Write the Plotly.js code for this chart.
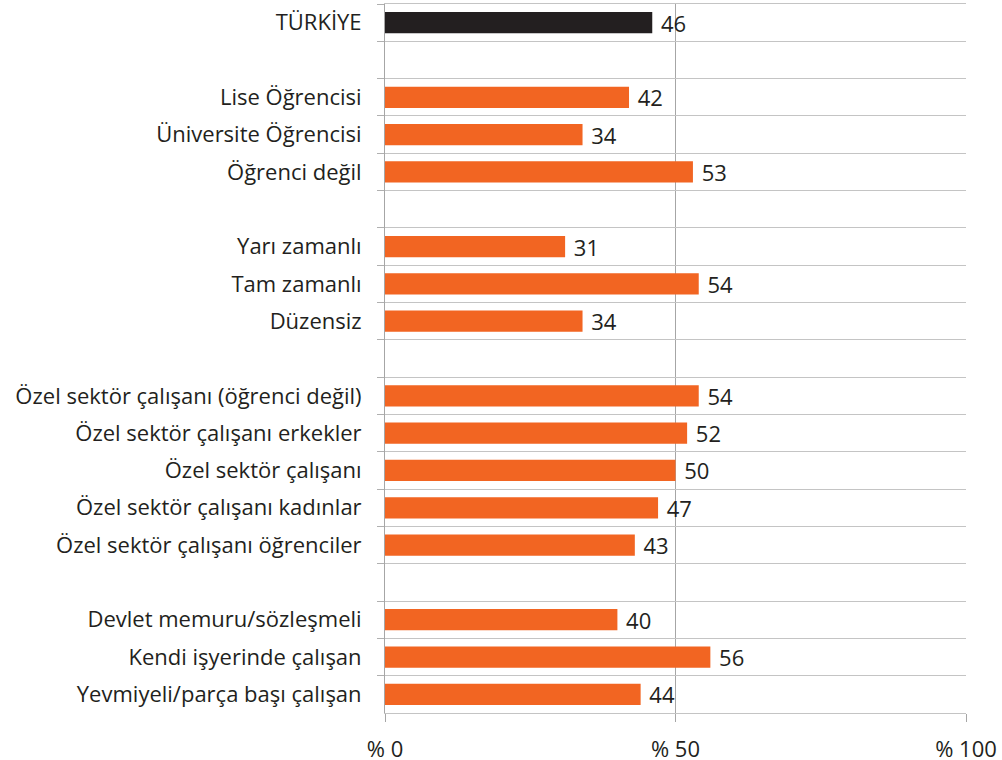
<!DOCTYPE html>
<html>
<head>
<meta charset="utf-8">
<script src="https://cdn.plot.ly/plotly-3.0.1.min.js"></script>
<style>body{margin:0;padding:0;background:#fff;}#chart{width:1002px;height:760px;}</style>
</head>
<body>
<div id="chart"></div>
<script>
const categories = [
  "TÜRKİYE", " ",
  "Lise Öğrencisi", "Üniversite Öğrencisi", "Öğrenci değil", "  ",
  "Yarı zamanlı", "Tam zamanlı", "Düzensiz", "   ",
  "Özel sektör çalışanı (öğrenci değil)", "Özel sektör çalışanı erkekler", "Özel sektör çalışanı",
  "Özel sektör çalışanı kadınlar", "Özel sektör çalışanı öğrenciler", "    ",
  "Devlet memuru/sözleşmeli", "Kendi işyerinde çalışan", "Yevmiyeli/parça başı çalışan"
];
const values = [46, null, 42, 34, 53, null, 31, 54, 34, null, 54, 52, 50, 47, 43, null, 40, 56, 44];
const barColors = categories.map(c => c === "TÜRKİYE" ? "#231F20" : "#F26522");
const xTickVals = [0, 50, 100];
const xTickText = ["% 0", "% 50", "% 100"];

const FONT = "Open Sans, sans-serif";
const trace = {
  type: "bar",
  orientation: "h",
  y: categories,
  x: values,
  marker: {color: barColors},
  width: 0.57,
  text: values.map(v => v === null ? "" : "\u00a0" + v),
  textposition: "outside",
  constraintext: "none",
  cliponaxis: false,
  textfont: {family: FONT, size: 22, color: "#231F20"},
  hoverinfo: "none"
};

const layout = {
  width: 1002, height: 760,
  margin: {l: 385, r: 36, t: 4, b: 47},
  paper_bgcolor: "#fff", plot_bgcolor: "#fff",
  showlegend: false,
  font: {family: FONT, size: 22, color: "#231F20"},
  xaxis: {
    range: [0, 100],
    tickvals: xTickVals,
    ticktext: xTickText,
    showgrid: true, gridcolor: "#a6a6a6", gridwidth: 1,
    zeroline: false,
    showline: true, mirror: true, linecolor: "#c4c4c4", linewidth: 1,
    ticks: "outside", ticklen: 8, tickcolor: "#a6a6a6",
    ticklabelstandoff: 9,
    tickfont: {family: FONT, size: 22, color: "#231F20"},
    fixedrange: true
  },
  yaxis: {
    type: "category",
    autorange: "reversed",
    tickson: "boundaries",
    showgrid: true, gridcolor: "#c4c4c4", gridwidth: 1,
    zeroline: false, showline: true, linecolor: "#a6a6a6",
    ticks: "outside", ticklen: 7, tickcolor: "#b0b0b0",
    ticklabelstandoff: 18,
    tickfont: {family: FONT, size: 22, color: "#231F20"},
    fixedrange: true
  },
  bargap: 0.43
};

Plotly.newPlot("chart", [trace], layout, {displayModeBar: false, staticPlot: true});
</script>
</body>
</html>
